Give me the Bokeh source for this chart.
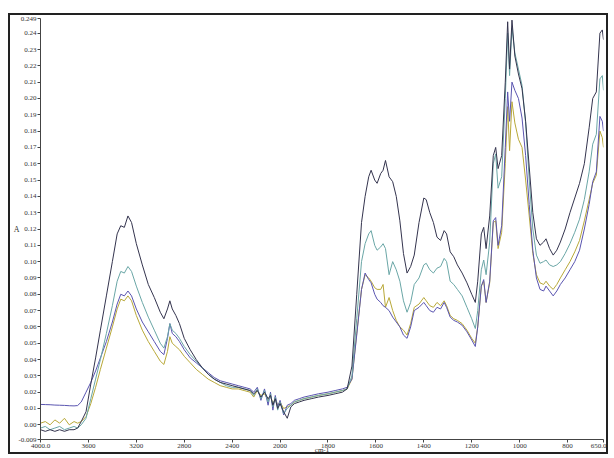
from bokeh.plotting import figure
from bokeh.models import Range1d, FixedTicker
from bokeh.embed import file_html
from bokeh.resources import INLINE
import numpy as np

# wavenumbers (cm-1), shared by all spectra
wn_baseline = [4000, 3960, 3920, 3880, 3840, 3800, 3760, 3720, 3690, 3660]
wn_oh = [3620, 3580, 3540, 3500, 3450, 3400, 3360, 3330, 3300, 3270, 3240, 3200, 3150, 3100, 3050,
         3000, 2970, 2940, 2920, 2900, 2870, 2840, 2800, 2750, 2700, 2650, 2600, 2550, 2500, 2450, 2400]
wn_mid = [2350, 2300, 2250, 2220, 2190, 2160, 2130, 2100, 2080, 2060, 2040, 2020, 2000, 1985, 1970,
          1955, 1940, 1920, 1900, 1870, 1840, 1800, 1770, 1740, 1720]
wn_fp1 = [1700, 1680, 1660, 1645, 1630, 1620, 1605, 1595, 1580, 1570, 1560, 1545, 1530, 1515, 1500,
          1485, 1470, 1455, 1440, 1420, 1400, 1390, 1375, 1360, 1345, 1330, 1315, 1305, 1290, 1275,
          1260, 1240, 1220, 1200]
wn_fp2 = [1185, 1175, 1160, 1150, 1140, 1125, 1110, 1100, 1090, 1075, 1060, 1050, 1042, 1032, 1020,
          1005, 990, 975, 960, 945, 930, 915, 900, 890, 875, 860, 845, 830, 810, 790, 770, 750, 730,
          710, 695, 680, 665, 655, 650]

# spectrum A (dark)
a_values = (
    [-0.003, -0.004, -0.003, -0.004, -0.003, -0.004, -0.003, -0.003, -0.002, 0.002]
    + [0.008, 0.025, 0.041, 0.058, 0.079, 0.100, 0.117, 0.122, 0.121, 0.128, 0.124, 0.111, 0.098, 0.086, 0.078,
       0.069, 0.065, 0.071, 0.076, 0.071, 0.067, 0.062, 0.053, 0.046, 0.040, 0.035, 0.031, 0.028, 0.026, 0.025, 0.024]
    + [0.023, 0.022, 0.021, 0.019, 0.021, 0.017, 0.020, 0.016, 0.018, 0.012, 0.016, 0.010, 0.013, 0.008, 0.004,
       0.011, 0.013, 0.014, 0.015, 0.016, 0.017, 0.018, 0.019, 0.020, 0.022]
    + [0.036, 0.080, 0.124, 0.140, 0.152, 0.156, 0.150, 0.148, 0.154, 0.156, 0.162, 0.152, 0.149, 0.140, 0.125,
       0.105, 0.093, 0.097, 0.104, 0.124, 0.139, 0.138, 0.130, 0.124, 0.115, 0.113, 0.119, 0.117, 0.106, 0.103,
       0.098, 0.093, 0.087, 0.080]
    + [0.075, 0.088, 0.117, 0.121, 0.108, 0.128, 0.165, 0.170, 0.157, 0.165, 0.210, 0.247, 0.218, 0.248, 0.226,
       0.215, 0.206, 0.186, 0.158, 0.130, 0.114, 0.110, 0.112, 0.114, 0.108, 0.104, 0.107, 0.112, 0.120, 0.130,
       0.139, 0.148, 0.160, 0.182, 0.200, 0.204, 0.240, 0.242, 0.236]
)

# spectrum B (teal)
b_values = (
    [-0.002, -0.001, -0.003, -0.002, -0.001, -0.003, -0.002, -0.001, -0.002, 0.000]
    + [0.004, 0.016, 0.028, 0.040, 0.056, 0.073, 0.088, 0.094, 0.093, 0.097, 0.094, 0.085, 0.075, 0.066, 0.058,
       0.050, 0.047, 0.054, 0.062, 0.058, 0.056, 0.053, 0.048, 0.043, 0.039, 0.035, 0.031, 0.028, 0.026, 0.024, 0.023]
    + [0.023, 0.022, 0.021, 0.018, 0.022, 0.016, 0.021, 0.014, 0.019, 0.011, 0.017, 0.009, 0.014, 0.007, 0.010,
       0.012, 0.014, 0.015, 0.016, 0.017, 0.018, 0.019, 0.020, 0.021, 0.022]
    + [0.030, 0.065, 0.100, 0.111, 0.117, 0.119, 0.110, 0.107, 0.109, 0.111, 0.108, 0.092, 0.100, 0.095, 0.088,
       0.076, 0.069, 0.075, 0.086, 0.090, 0.098, 0.099, 0.095, 0.093, 0.096, 0.097, 0.102, 0.100, 0.088, 0.086,
       0.083, 0.079, 0.072, 0.065]
    + [0.059, 0.070, 0.095, 0.101, 0.092, 0.112, 0.160, 0.166, 0.145, 0.152, 0.200, 0.240, 0.214, 0.243, 0.228,
       0.218, 0.208, 0.185, 0.150, 0.120, 0.104, 0.099, 0.100, 0.101, 0.098, 0.097, 0.098, 0.100, 0.105, 0.111,
       0.118, 0.126, 0.138, 0.155, 0.172, 0.178, 0.212, 0.214, 0.205]
)

# spectrum C (blue-violet, offset baseline)
c_values = (
    [0.0125, 0.0124, 0.0123, 0.0121, 0.0120, 0.0119, 0.0117, 0.0116, 0.0118, 0.0140]
    + [0.020, 0.026, 0.033, 0.041, 0.051, 0.063, 0.074, 0.080, 0.079, 0.082, 0.079, 0.071, 0.063, 0.057, 0.051,
       0.045, 0.043, 0.053, 0.062, 0.056, 0.054, 0.051, 0.046, 0.041, 0.038, 0.035, 0.032, 0.029, 0.027, 0.026, 0.025]
    + [0.024, 0.023, 0.022, 0.020, 0.023, 0.015, 0.022, 0.012, 0.020, 0.009, 0.018, 0.011, 0.015, 0.006, 0.012,
       0.013, 0.015, 0.016, 0.017, 0.018, 0.019, 0.020, 0.021, 0.022, 0.023]
    + [0.028, 0.055, 0.083, 0.093, 0.089, 0.087, 0.080, 0.077, 0.075, 0.073, 0.072, 0.070, 0.066, 0.063, 0.060,
       0.055, 0.053, 0.060, 0.070, 0.072, 0.075, 0.073, 0.070, 0.069, 0.072, 0.071, 0.075, 0.072, 0.066, 0.064,
       0.063, 0.061, 0.057, 0.052]
    + [0.048, 0.060, 0.085, 0.089, 0.075, 0.088, 0.125, 0.127, 0.110, 0.122, 0.170, 0.204, 0.186, 0.210, 0.205,
       0.200, 0.188, 0.165, 0.135, 0.107, 0.090, 0.083, 0.082, 0.085, 0.082, 0.079, 0.082, 0.086, 0.090, 0.095,
       0.100, 0.107, 0.120, 0.135, 0.149, 0.155, 0.189, 0.186, 0.180]
)

# spectrum D (olive)
d_values = (
    [0.001, 0.002, 0.000, 0.003, 0.001, 0.004, 0.000, 0.002, 0.001, 0.002]
    + [0.005, 0.013, 0.023, 0.034, 0.047, 0.060, 0.071, 0.077, 0.076, 0.079, 0.076, 0.067, 0.058, 0.051, 0.045,
       0.039, 0.037, 0.045, 0.054, 0.050, 0.048, 0.046, 0.042, 0.038, 0.034, 0.031, 0.028, 0.026, 0.024, 0.023, 0.022]
    + [0.022, 0.021, 0.020, 0.017, 0.021, 0.018, 0.019, 0.015, 0.018, 0.013, 0.016, 0.012, 0.014, 0.010, 0.011,
       0.012, 0.014, 0.015, 0.016, 0.017, 0.018, 0.019, 0.020, 0.021, 0.022]
    + [0.028, 0.056, 0.083, 0.092, 0.090, 0.088, 0.084, 0.083, 0.083, 0.086, 0.072, 0.078, 0.070, 0.064, 0.060,
       0.058, 0.055, 0.062, 0.072, 0.074, 0.078, 0.076, 0.073, 0.072, 0.075, 0.073, 0.076, 0.073, 0.067, 0.065,
       0.064, 0.062, 0.058, 0.053]
    + [0.050, 0.060, 0.085, 0.088, 0.075, 0.087, 0.124, 0.125, 0.108, 0.118, 0.160, 0.195, 0.168, 0.198, 0.185,
       0.175, 0.170, 0.150, 0.128, 0.105, 0.092, 0.087, 0.086, 0.088, 0.085, 0.083, 0.086, 0.090, 0.095, 0.100,
       0.106, 0.113, 0.125, 0.138, 0.148, 0.153, 0.180, 0.176, 0.170]
)

series_names = ["D", "C", "B", "A"]
series_colors = ["#b8a838", "#5a55b0", "#6aa6a6", "#34344e"]

x_tick_wn = [4000, 3600, 3200, 2800, 2400, 2000, 1800, 1600, 1400, 1200, 1000, 800, 650]
x_tick_labels = ["4000.0", "3600", "3200", "2800", "2400", "2000", "1800", "1600", "1400", "1200",
                 "1000", "800", "650.0"]
y_tick_labels = ["-0.009", "0.00", "0.01", "0.02", "0.03", "0.04", "0.05", "0.06", "0.07", "0.08", "0.09",
                 "0.10", "0.11", "0.12", "0.13", "0.14", "0.15", "0.16", "0.17", "0.18", "0.19", "0.20",
                 "0.21", "0.22", "0.23", "0.24", "0.249"]
x_title = "cm-1"
y_title = "A"

wn = np.array(wn_baseline + wn_oh + wn_mid + wn_fp1 + wn_fp2, dtype=float)
for v in (a_values, b_values, c_values, d_values):
    assert len(v) == len(wn)


def split_scale(w):
    # OMNIC-style axis: 4000-2000 compressed by a factor 2
    w = np.asarray(w, dtype=float)
    return np.where(w >= 2000, (4000 - w) / 2.0, 1000 + (2000 - w))


xs = split_scale(wn)
FONT = "Liberation Serif"

p = figure(width=600, height=441, output_backend="svg", toolbar_location=None,
           x_range=Range1d(0, 2350), y_range=Range1d(-0.009, 0.249),
           min_border_left=29, min_border_right=7, min_border_top=3, min_border_bottom=15,
           background_fill_color="white", border_fill_color="white", outline_line_color=None)
p.styles = {"border": "2px solid #222", "margin-top": "13px", "margin-left": "8px"}
p.xgrid.visible = False
p.ygrid.visible = False

data = {"A": a_values, "B": b_values, "C": c_values, "D": d_values}
for name, col in zip(series_names, series_colors):
    p.line(xs, data[name], line_color=col, line_width=1.0)

xt = [float(v) for v in split_scale(x_tick_wn)]
p.xaxis.ticker = FixedTicker(ticks=xt, minor_ticks=[])
p.xaxis.major_label_overrides = {t: lab for t, lab in zip(xt, x_tick_labels)}
yt = [float(s) for s in y_tick_labels]
p.yaxis.ticker = FixedTicker(ticks=yt, minor_ticks=[])
p.yaxis.major_label_overrides = {t: s for t, s in zip(yt, y_tick_labels)}

for ax in (p.xaxis, p.yaxis):
    ax.axis_line_color = "#444"
    ax.major_tick_line_color = "#444"
    ax.major_tick_out = 3
    ax.major_tick_in = 0
    ax.minor_tick_line_color = None
    ax.major_label_text_font = FONT
    ax.major_label_text_font_size = "7px"
    ax.major_label_text_color = "#333"
    ax.major_label_standoff = 1
    ax.axis_label_text_font = FONT
    ax.axis_label_text_font_style = "normal"
    ax.axis_label_text_color = "#333"

p.xaxis.axis_label = x_title
p.xaxis.axis_label_text_font_size = "7px"
p.xaxis.axis_label_standoff = -5
p.yaxis.axis_label = y_title
p.yaxis.axis_label_text_font_size = "8px"
p.yaxis.axis_label_standoff = -4
yax = p.yaxis[0]
if "axis_label_orientation" in yax.properties():
    yax.axis_label_orientation = "horizontal"

open("out.html", "w").write(file_html(p, INLINE))
